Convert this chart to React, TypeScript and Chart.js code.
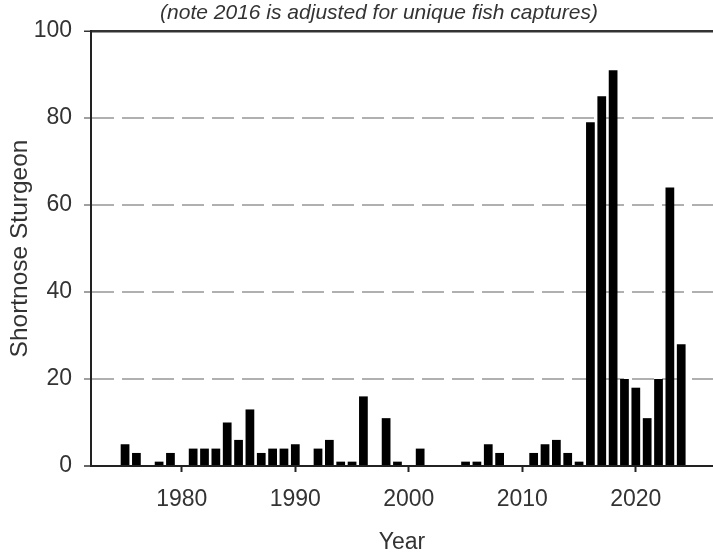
import React, { useEffect, useRef } from "react";
import { Chart, registerables } from "chart.js";

Chart.register(...registerables);

// Annual shortnose sturgeon counts
const years: number[] = [
  1975, 1976, 1977, 1978, 1979, 1980, 1981, 1982, 1983, 1984,
  1985, 1986, 1987, 1988, 1989, 1990, 1991, 1992, 1993, 1994,
  1995, 1996, 1997, 1998, 1999, 2000, 2001, 2002, 2003, 2004,
  2005, 2006, 2007, 2008, 2009, 2010, 2011, 2012, 2013, 2014,
  2015, 2016, 2017, 2018, 2019, 2020, 2021, 2022, 2023, 2024,
];
const counts: number[] = [
  5, 3, 0, 1, 3, 0, 4, 4, 4, 10,
  6, 13, 3, 4, 4, 5, 0, 4, 6, 1,
  1, 16, 0, 11, 1, 0, 4, 0, 0, 0,
  1, 1, 5, 3, 0, 0, 3, 5, 6, 3,
  1, 79, 85, 91, 20, 18, 11, 20, 64, 28,
];
const decadeTicks: number[] = [1980, 1990, 2000, 2010, 2020];
const countTicks: number[] = [0, 20, 40, 60, 80, 100];

const noteText = "(note 2016 is adjusted for unique fish captures)";
const FONT = "'Liberation Sans', Arial, sans-serif";
const TEXT = "#333333";

// Italic note line above the plot, drawn slightly left of the canvas centre
const notePlugin = {
  id: "noteLine",
  afterDraw(chart: any) {
    const ctx = chart.ctx;
    ctx.save();
    ctx.font = `italic 21px ${FONT}`;
    ctx.fillStyle = TEXT;
    ctx.textAlign = "center";
    ctx.textBaseline = "alphabetic";
    ctx.fillText(noteText, 379, 18.5);
    ctx.restore();
  },
};

export default function App() {
  const canvasRef = useRef<HTMLCanvasElement | null>(null);

  useEffect(() => {
    document.body.style.margin = "0";
    const canvas = canvasRef.current;
    if (!canvas) return;

    const chart = new Chart(canvas, {
      type: "bar",
      data: {
        datasets: [
          {
            data: years.map((y, i) => ({ x: y, y: counts[i] })),
            backgroundColor: "#000000",
            borderWidth: 0,
            barPercentage: 0.77,
            categoryPercentage: 1,
          },
        ],
      },
      plugins: [notePlugin],
      options: {
        animation: false,
        responsive: false,
        maintainAspectRatio: false,
        layout: { padding: { left: 0, right: 0, top: 31, bottom: 0 } },
        plugins: {
          legend: { display: false },
          tooltip: { enabled: false },
          title: { display: false },
        },
        scales: {
          x: {
            type: "linear",
            min: 1972,
            max: 2026.8,
            offset: false,
            afterBuildTicks: (scale: any) => {
              scale.ticks = decadeTicks.map((v) => ({ value: v }));
            },
            afterFit: (scale: any) => {
              scale.height = 92;
            },
            ticks: {
              color: TEXT,
              font: { family: FONT, size: 23 },
              padding: 14,
              maxRotation: 0,
              autoSkip: false,
              callback: (v: any) => String(v),
            },
            grid: {
              offset: false,
              drawOnChartArea: false,
              drawTicks: true,
              tickLength: 6,
              tickColor: "#222222",
              tickWidth: 2,
            },
            border: { display: true, color: "#222222", width: 2 },
            title: {
              display: true,
              text: "Year",
              color: TEXT,
              font: { family: FONT, size: 23 },
              padding: { top: 6, bottom: 2 },
            },
          },
          y: {
            min: 0,
            max: 100,
            afterBuildTicks: (scale: any) => {
              scale.ticks = countTicks.map((v) => ({ value: v }));
            },
            afterFit: (scale: any) => {
              scale.width = 91;
            },
            ticks: {
              color: TEXT,
              font: { family: FONT, size: 23 },
              padding: 12,
            },
            grid: {
              drawTicks: true,
              tickLength: 7,
              tickWidth: 1.5,
              tickColor: (ctx: any) => {
                const v = ctx.tick ? ctx.tick.value : null;
                return v === 0 || v === 100 ? "#333333" : "#808080";
              },
              color: (ctx: any) => {
                const v = ctx.tick ? ctx.tick.value : null;
                if (v === 100) return "#333333";
                if (v === 0) return "rgba(0,0,0,0)";
                return "#b0b0b0";
              },
              lineWidth: (ctx: any) => (ctx.tick && ctx.tick.value === 100 ? 2.5 : 2),
            },
            border: {
              display: true,
              color: "#222222",
              width: 2,
              dash: (ctx: any) =>
                ctx.tick && ctx.tick.value !== 100 ? [22, 8] : [],
            },
            title: {
              display: true,
              text: "Shortnose Sturgeon",
              color: TEXT,
              font: { family: FONT, size: 24.5 },
              padding: { top: 6, bottom: 2 },
            },
          },
        },
      },
    } as any);

    return () => {
      chart.destroy();
    };
  }, []);

  return (
    <div style={{ position: "absolute", left: 0, top: 0, width: 713, height: 558, background: "#ffffff" }}>
      <canvas ref={canvasRef} width={713} height={558} style={{ display: "block", width: 713, height: 558 }} />
    </div>
  );
}
